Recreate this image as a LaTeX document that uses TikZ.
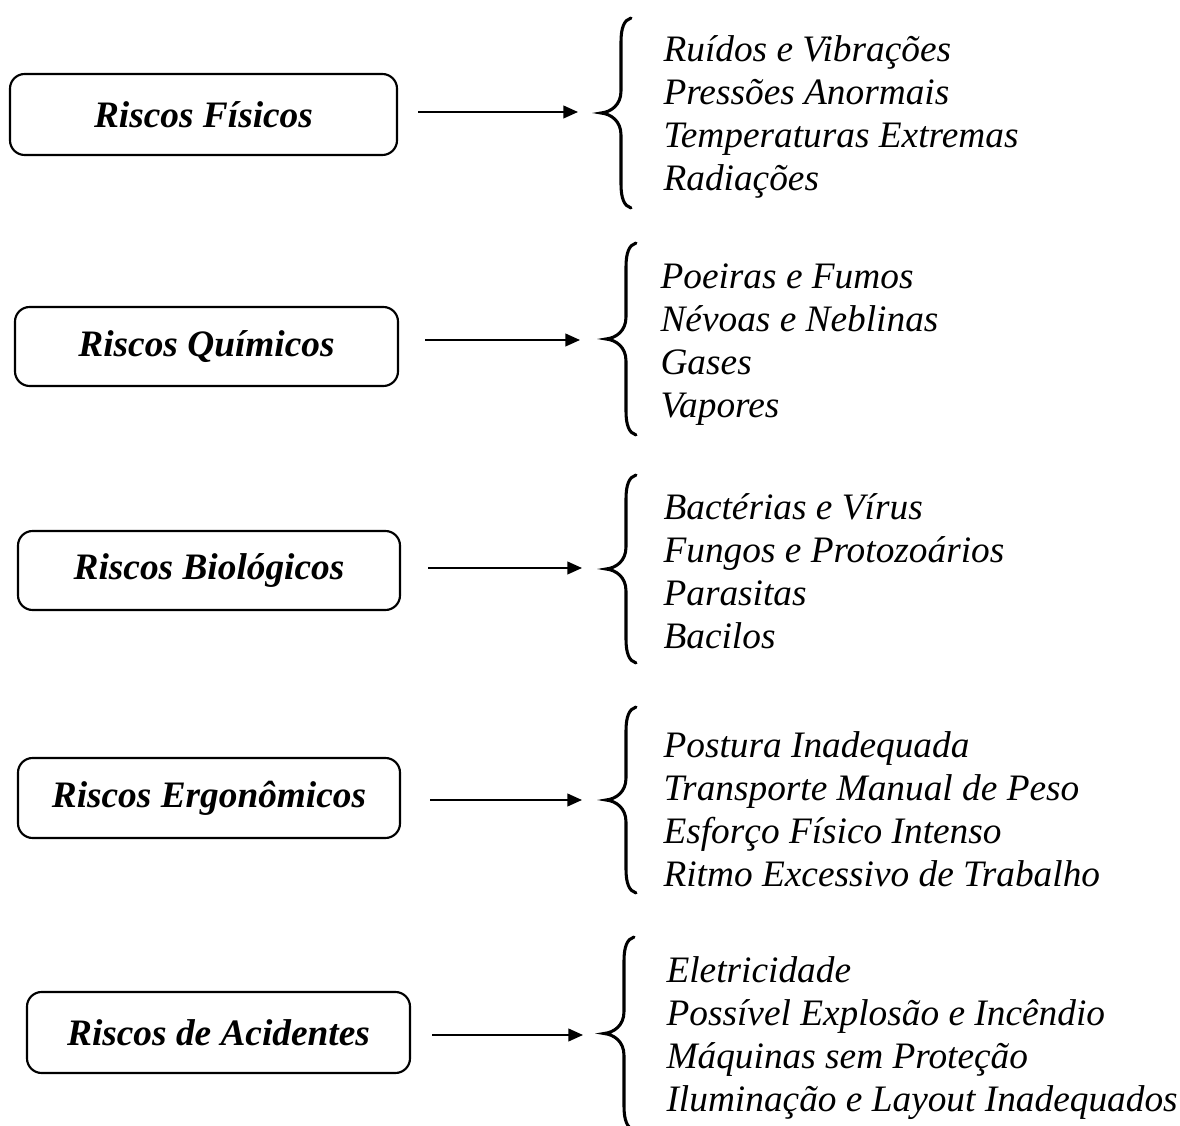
\documentclass[tikz,border=0pt]{standalone}
\usepackage{fontspec}
\setmainfont{Liberation Serif}
\usetikzlibrary{arrows.meta}

\tikzset{
  riskbox/.style={draw, line width=0.8pt, rounded corners=5.5pt, inner sep=0pt,
    font=\fontsize{14pt}{16.1pt}\selectfont\bfseries\itshape},
  risklist/.style={anchor=west, align=left, inner sep=0pt,
    font=\fontsize{14pt}{16.1pt}\selectfont\itshape},
  riskarrow/.style={line width=0.6pt, -{Triangle[length=5.5pt,width=4.8pt]}},
  riskbrace/.style={line width=1.15pt, line cap=round}
}

% curly brace: #1 = x of the tip, #2 = top, #3 = bottom (pixel units)
\newcommand\curlybrace[3]{%
  \draw[riskbrace]
    ({#1+30},{#2}) .. controls ({#1+23},{#2+2}) and ({#1+20},{#2+10}) .. ({#1+20},{#2+24})
    -- ({#1+20},{(#2+#3)/2-22})
    .. controls ({#1+20},{(#2+#3)/2-8}) and ({#1+10},{(#2+#3)/2-1}) .. ({#1},{(#2+#3)/2})
    .. controls ({#1+10},{(#2+#3)/2+1}) and ({#1+20},{(#2+#3)/2+8}) .. ({#1+20},{(#2+#3)/2+22})
    -- ({#1+20},{#3-24})
    .. controls ({#1+20},{#3-10}) and ({#1+23},{#3-2}) .. ({#1+30},{#3});
}

\begin{document}
\begin{tikzpicture}[x=0.375pt, y=-0.375pt]
\useasboundingbox (0,0) rectangle (1180,1126);

% category boxes
\node[riskbox, minimum width=387*0.375pt, minimum height=81*0.375pt] (fis) at (203.5,114.5) {\raisebox{-1pt}{Riscos Físicos}};
\node[riskbox, minimum width=383*0.375pt, minimum height=79*0.375pt] (qui) at (206.5,346.5) {\raisebox{-1pt}{Riscos Químicos}};
\node[riskbox, minimum width=382*0.375pt, minimum height=79*0.375pt] (bio) at (209,570.5) {\raisebox{-1pt}{Riscos Biológicos}};
\node[riskbox, minimum width=382*0.375pt, minimum height=80*0.375pt] (erg) at (209,798) {\raisebox{-1pt}{Riscos Ergonômicos}};
\node[riskbox, minimum width=383*0.375pt, minimum height=81*0.375pt] (aci) at (218.5,1032.5) {\raisebox{-1pt}{Riscos de Acidentes}};

% arrow targets
\coordinate (tfis) at (578,112);
\coordinate (tqui) at (580,340);
\coordinate (tbio) at (582,568);
\coordinate (terg) at (582,800);
\coordinate (taci) at (583,1035);

\draw[riskarrow] (418,112) -- (tfis);
\draw[riskarrow] (425,340) -- (tqui);
\draw[riskarrow] (428,568) -- (tbio);
\draw[riskarrow] (430,800) -- (terg);
\draw[riskarrow] (432,1035) -- (taci);

% braces
\curlybrace{601}{18}{208}
\curlybrace{606}{243}{435}
\curlybrace{606}{475}{663}
\curlybrace{606}{707}{893}
\curlybrace{604}{937}{1130}

% agent lists
\node[risklist] (lfis) at (663,117) {Ruídos e Vibrações\\Pressões Anormais\\Temperaturas Extremas\\Radiações};
\node[risklist] (lqui) at (660,345) {Poeiras e Fumos\\Névoas e Neblinas\\Gases\\Vapores};
\node[risklist] (lbio) at (663,571) {Bactérias e Vírus\\Fungos e Protozoários\\Parasitas\\Bacilos};
\node[risklist] (lerg) at (663,809) {Postura Inadequada\\Transporte Manual de Peso\\Esforço Físico Intenso\\Ritmo Excessivo de Trabalho};
\node[risklist] (laci) at (666,1038) {Eletricidade\\Possível Explosão e Incêndio\\Máquinas sem Proteção\\Iluminação e Layout Inadequados};
\end{tikzpicture}
\end{document}
